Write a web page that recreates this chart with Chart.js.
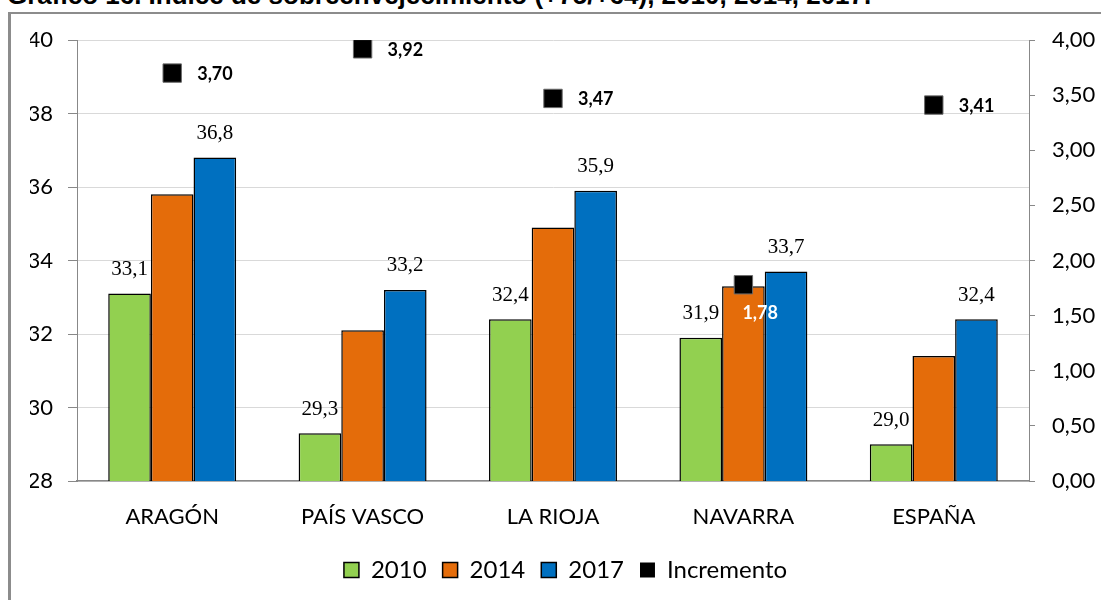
<!DOCTYPE html>
<html>
<head>
<meta charset="utf-8">
<script src="https://cdn.jsdelivr.net/npm/chart.js@4.4.0/dist/chart.umd.min.js"></script>
<style>
  html, body { margin: 0; padding: 0; background: #fff; overflow: hidden; }
  body { width: 1101px; height: 600px; position: relative; }
  #titulo { position: absolute; left: 7px; top: -18px; font: bold 26px "Liberation Sans", Arial, sans-serif; line-height: 26px; white-space: nowrap; color: #000; }
  #marco { position: absolute; left: 8px; top: 12px; width: 1200px; height: 700px; border: 2px solid #8c8c8c; border-left-width: 3px; box-sizing: border-box; }
  #wrap { position: absolute; left: 0; top: 0; width: 1101px; height: 592px; }
</style>
</head>
<body>
<div id="titulo">Gráfico 16. Índice de sobreenvejecimiento (+75/+64), 2010, 2014, 2017.</div>
<div id="marco"></div>
<div id="wrap"><canvas id="grafico"></canvas></div>
<script>
const categorias = ['ARAGÓN', 'PAÍS VASCO', 'LA RIOJA', 'NAVARRA', 'ESPAÑA'];
const v2010 = [33.1, 29.3, 32.4, 31.9, 29.0];
const v2014 = [35.8, 32.1, 34.9, 33.3, 31.4];
const v2017 = [36.8, 33.2, 35.9, 33.7, 32.4];
const incremento = [3.70, 3.92, 3.47, 1.78, 3.41];

const ticksIzq = [28, 30, 32, 34, 36, 38, 40];
const ticksDer = [0, 0.5, 1, 1.5, 2, 2.5, 3, 3.5, 4];

function coma(v, d) {
    return v.toFixed(d).replace('.', ',');
}

// etiquetas de valores (barras 2010/2017 e incremento)
const etiquetas = {
    id: 'etiquetas',
    afterDatasetsDraw(chart) {
        const ctx = chart.ctx;
        ctx.save();
        ctx.font = '21px "Liberation Serif", serif';
        ctx.fillStyle = '#000';
        ctx.textAlign = 'center';
        ctx.textBaseline = 'middle';
        [0, 2].forEach(di => {
            chart.getDatasetMeta(di).data.forEach((bar, i) => {
                ctx.fillText(coma(chart.data.datasets[di].data[i], 1), bar.x, bar.y - 24);
            });
        });

        const barras17 = chart.getDatasetMeta(2).data;
        ctx.font = 'bold 18px Lato, sans-serif';
        ctx.textAlign = 'left';
        chart.getDatasetMeta(3).data.forEach((pt, i) => {
            const txt = coma(incremento[i], 2);
            if (pt.y > barras17[i].y) {
                // el punto cae dentro de las barras
                ctx.fillStyle = '#fff';
                ctx.fillText(txt, pt.x - 1, pt.y + 28);
            } else {
                ctx.fillStyle = '#000';
                ctx.fillText(txt, pt.x + 25, pt.y + 1);
            }
        });
        ctx.restore();
    }
};

const barra = (label, data, color) => ({
    type: 'bar',
    label: label,
    data: data,
    backgroundColor: color,
    borderColor: '#000',
    borderWidth: 1.5,
    yAxisID: 'y',
    order: 1,
    categoryPercentage: 0.672,
    barPercentage: 1.0
});

new Chart(document.getElementById('grafico'), {
    data: {
        labels: categorias,
        datasets: [
            barra('2010', v2010, '#92D050'),
            barra('2014', v2014, '#E46C0A'),
            barra('2017', v2017, '#0070C0'),
            {
                type: 'line',
                label: 'Incremento',
                data: incremento,
                yAxisID: 'y1',
                order: 0,
                showLine: false,
                pointStyle: 'rect',
                pointRadius: 13,
                pointHoverRadius: 13,
                pointBackgroundColor: '#000',
                pointBorderColor: '#6b6b6b',
                pointBorderWidth: 1,
                backgroundColor: '#000',
                borderColor: '#000',
                borderWidth: 0
            }
        ]
    },
    options: {
        responsive: true,
        maintainAspectRatio: false,
        animation: false,
        layout: { padding: { left: 30, right: 0, top: 40, bottom: 0 } },
        plugins: {
            legend: {
                position: 'bottom',
                labels: {
                    boxWidth: 15,
                    boxHeight: 15,
                    padding: 16,
                    color: '#000',
                    font: { family: 'Lato, sans-serif', size: 24 },
                    sort: (a, b) => a.datasetIndex - b.datasetIndex
                }
            },
            tooltip: { enabled: false },
            title: { display: false }
        },
        scales: {
            x: {
                grid: { display: false, drawTicks: false },
                border: { color: '#888', width: 1.5 },
                ticks: { color: '#000', padding: 23, font: { family: 'Lato, sans-serif', size: 22 } },
                afterFit: s => { s.height = 61; }
            },
            y: {
                position: 'left',
                min: 28,
                max: 40,
                afterBuildTicks: s => { s.ticks = ticksIzq.map(v => ({ value: v })); },
                grid: { color: '#d9d9d9', tickColor: '#888', tickLength: 9 },
                border: { color: '#888' },
                ticks: { color: '#000', padding: 15, font: { family: 'Lato, sans-serif', size: 22 } },
                afterFit: s => { s.width = 47; }
            },
            y1: {
                position: 'right',
                min: 0,
                max: 4,
                afterBuildTicks: s => { s.ticks = ticksDer.map(v => ({ value: v })); },
                grid: { drawOnChartArea: false, tickColor: '#888', tickLength: 6 },
                border: { color: '#888' },
                ticks: { color: '#000', padding: 17, font: { family: 'Lato, sans-serif', size: 22 },
                    callback: v => coma(v, 2) },
                afterFit: s => { s.width = 72; }
            }
        }
    },
    plugins: [etiquetas]
});
</script>
</body>
</html>
